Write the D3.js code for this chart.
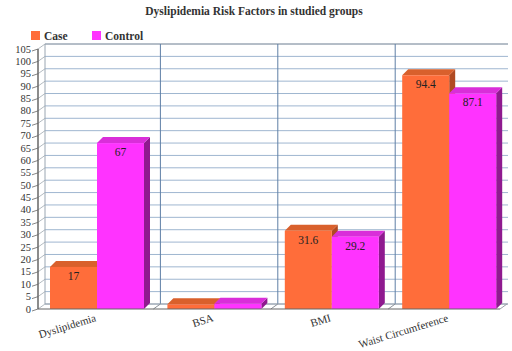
<!DOCTYPE html>
<html>
<head>
<meta charset="utf-8">
<script src="https://cdn.jsdelivr.net/npm/d3@7"></script>
<style>
  html, body { margin: 0; padding: 0; background: #fff; }
  svg { display: block; }
  svg text { font-family: "Liberation Serif", "Times New Roman", "DejaVu Serif", serif; }
</style>
</head>
<body>
<svg id="chart" width="512" height="351"></svg>
<script>
// Dyslipidemia risk factors, case vs control
const categories = ["Dyslipidemia", "BSA", "BMI", "Waist Circumference"];
const seriesNames = ["Case", "Control"];
const caseValues = [17, 1.9, 31.6, 94.4];
const controlValues = [67, 2.1, 29.2, 87.1];
const caseLabels = ["17", "", "31.6", "94.4"];
const controlLabels = ["67", "", "29.2", "87.1"];
const yTicks = d3.range(0, 106, 5);

const FONT = "'Liberation Serif', 'Times New Roman', 'DejaVu Serif', serif";

const colors = {
  Case:    { front: "#ff6d3a", top: "#d9602c", side: "#b04a22" },
  Control: { front: "#ff33ff", top: "#d92ed9", side: "#8f1a8f" }
};

const svg = d3.select("#chart").attr("font-family", FONT);

// plot frame (front plane) and depth offsets
const plotLeft = 38, plotRight = 500, plotBottom = 309, plotTop = 49;
const wallDx = 7, wallDy = -5;   // back wall offset
const barDx = 6, barDy = -6;     // bar depth

const y = d3.scaleLinear().domain([0, 105]).range([plotBottom, plotTop]);
const x = d3.scaleBand().domain(categories).range([plotLeft, plotLeft + 4 * 117.4]);
const barW = 47, barPad = 12;

// title
svg.append("text")
  .attr("x", 254).attr("y", 15)
  .attr("text-anchor", "middle").attr("font-family", FONT)
  .attr("font-size", 11.5).attr("font-weight", "bold").attr("fill", "#333")
  .text("Dyslipidemia Risk Factors in studied groups");

// legend
const legend = svg.append("g");
[[31, "Case"], [92, "Control"]].forEach(([lx, name]) => {
  legend.append("rect").attr("x", lx).attr("y", 31).attr("width", 9).attr("height", 9)
    .attr("fill", colors[name].front);
  legend.append("text").attr("x", lx + 13).attr("y", 39.5).attr("font-family", FONT)
    .attr("font-size", 11.5).attr("font-weight", "bold").attr("fill", "#333").text(name);
});

// back wall gridlines
const wallL = plotLeft + wallDx, wallR = 508;
const grid = svg.append("g");
grid.selectAll("line.h").data(yTicks).join("line")
  .attr("x1", wallL).attr("x2", wallR)
  .attr("y1", d => y(d) + wallDy).attr("y2", d => y(d) + wallDy)
  .attr("stroke", "#9fb6d0").attr("stroke-width", 1);
// side wall lines
grid.append("g").selectAll("line").data(yTicks).join("line")
  .attr("x1", plotLeft).attr("x2", wallL)
  .attr("y1", d => y(d)).attr("y2", d => y(d) + wallDy)
  .attr("stroke", "#a0a8b0").attr("stroke-width", 0.8);
// back wall edges
grid.append("line").attr("x1", wallL).attr("x2", wallL)
  .attr("y1", y(0) + wallDy).attr("y2", y(105) + wallDy)
  .attr("stroke", "#9aa6b2");
grid.append("line").attr("x1", wallL).attr("x2", wallR)
  .attr("y1", y(105) + wallDy).attr("y2", y(105) + wallDy)
  .attr("stroke", "#9aa0a8");
// category dividers on the back wall
const dividers = categories.slice(1);
grid.append("g").selectAll("line").data(dividers).join("line")
  .attr("x1", d => x(d) + wallDx - 2).attr("x2", d => x(d) + wallDx - 2)
  .attr("y1", y(0) + wallDy).attr("y2", y(105) + wallDy)
  .attr("stroke", "#5f7fa6").attr("stroke-width", 1);
// floor
grid.append("line").attr("x1", wallL).attr("x2", wallR)
  .attr("y1", y(0) + wallDy).attr("y2", y(0) + wallDy).attr("stroke", "#9aa0a8");
grid.append("line").attr("x1", plotRight).attr("x2", plotRight + wallDx)
  .attr("y1", y(0)).attr("y2", y(0) + wallDy).attr("stroke", "#9aa0a8");
grid.append("g").selectAll("line").data(dividers).join("line")
  .attr("x1", d => x(d) - 2).attr("x2", d => x(d) + wallDx - 2)
  .attr("y1", y(0)).attr("y2", y(0) + wallDy).attr("stroke", "#8a9098");

// bars
const bars = svg.append("g");
function drawBar(bx, v, c) {
  const x0 = bx, x1 = bx + barW, yt = y(v), yb = y(0);
  bars.append("polygon")
    .attr("points", [[x1, yb], [x1, yt], [x1 + barDx, yt + barDy], [x1 + barDx, yb + barDy]].join(" "))
    .attr("fill", c.side);
  bars.append("polygon")
    .attr("points", [[x0, yt], [x0 + barDx, yt + barDy], [x1 + barDx, yt + barDy], [x1, yt]].join(" "))
    .attr("fill", c.top);
  bars.append("rect").attr("x", x0).attr("y", yt).attr("width", barW).attr("height", yb - yt)
    .attr("fill", c.front);
}
categories.forEach((cat, i) => {
  const bx = x(cat) + barPad;
  drawBar(bx, caseValues[i], colors.Case);
  drawBar(bx + barW, controlValues[i], colors.Control);
});

// value labels
const labels = svg.append("g").attr("font-size", 11.5).attr("fill", "#222")
  .attr("text-anchor", "middle").attr("font-family", FONT);
categories.forEach((cat, i) => {
  const bx = x(cat) + barPad;
  labels.append("text").attr("x", bx + barW / 2).attr("y", y(caseValues[i]) + 13).text(caseLabels[i]);
  labels.append("text").attr("x", bx + barW * 1.5).attr("y", y(controlValues[i]) + 13).text(controlLabels[i]);
});

// front axes
svg.append("line").attr("x1", plotLeft).attr("x2", plotLeft).attr("y1", y(0)).attr("y2", y(105))
  .attr("stroke", "#666").attr("stroke-width", 1.5);
svg.append("line").attr("x1", plotLeft).attr("x2", plotRight).attr("y1", y(0)).attr("y2", y(0))
  .attr("stroke", "#666").attr("stroke-width", 1.2);

// y axis ticks and labels
const yAxis = svg.append("g");
yAxis.selectAll("line").data(yTicks).join("line")
  .attr("x1", 32).attr("x2", plotLeft).attr("y1", d => y(d) + 2).attr("y2", d => y(d))
  .attr("stroke", "#666").attr("stroke-width", 0.8);
yAxis.selectAll("text").data(yTicks).join("text")
  .attr("x", 31).attr("y", d => y(d) + 3.5).attr("font-family", FONT)
  .attr("text-anchor", "end").attr("font-size", 10.5).attr("fill", "#333")
  .text(d => d);

// category labels
svg.append("g").selectAll("text").data(categories).join("text")
  .attr("transform", d => `translate(${x(d) + x.bandwidth() / 2},${y(0) + 12}) rotate(-17)`)
  .attr("text-anchor", "end").attr("font-size", 11).attr("fill", "#333").attr("font-family", FONT)
  .text(d => d);
</script>
</body>
</html>
